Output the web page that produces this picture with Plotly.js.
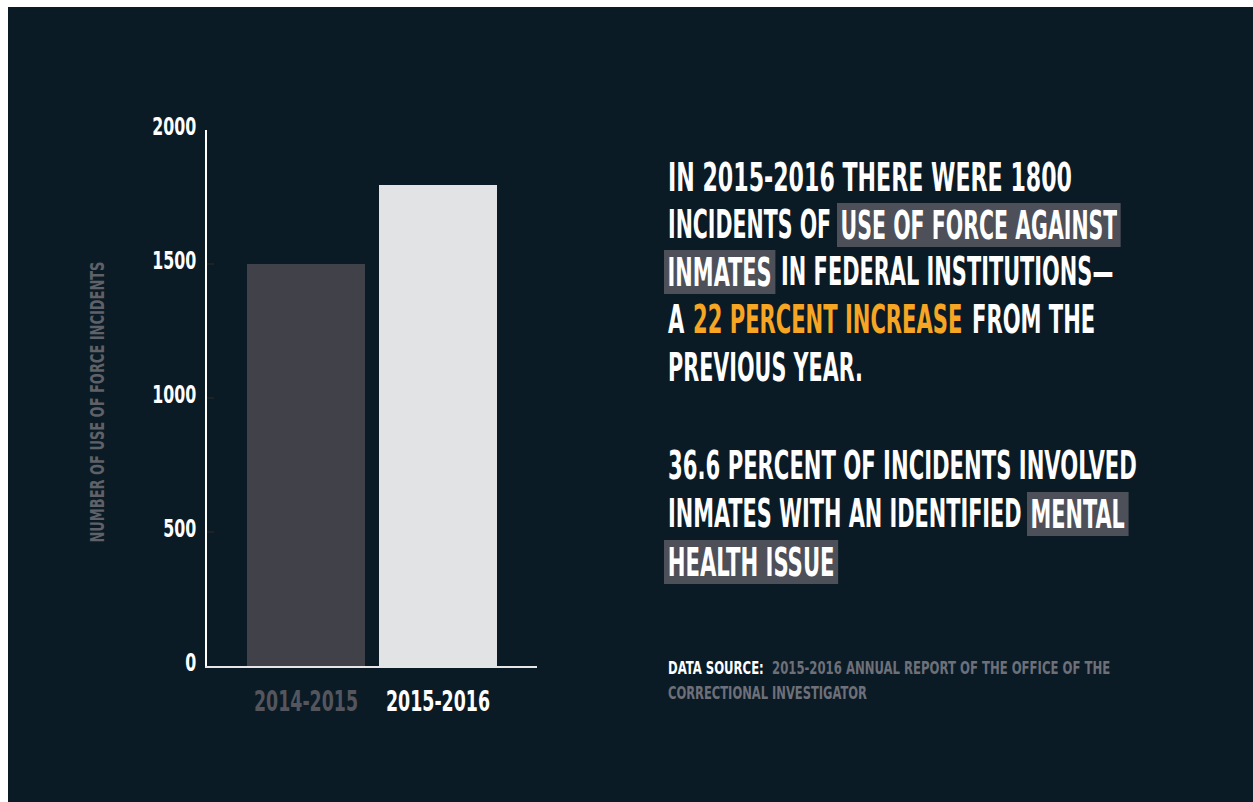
<!DOCTYPE html>
<html><head><meta charset="utf-8">
<script src="https://cdn.plot.ly/plotly-3.0.1.min.js"></script>
<style>
html,body{margin:0;padding:0;background:#ffffff;width:1253px;height:802px;overflow:hidden;}
#chart{position:absolute;left:8px;top:7px;width:1245px;height:795px;}
</style></head><body><div id="chart"></div>
<script>
// ---------------- DATA ----------------
const categories = ['2014-2015', '2015-2016'];
const incidents = [1500, 1795];
const yTickValues = [0, 500, 1000, 1500, 2000];
const yAxisTitle = 'NUMBER OF USE OF FORCE INCIDENTS';

const statementLines = [
  [['IN 2015-2016 THERE WERE 1800', 'plain']],
  [['INCIDENTS OF', 'plain'], ['USE OF FORCE AGAINST', 'hl']],
  [['INMATES', 'hl'], ['IN FEDERAL INSTITUTIONS—', 'plain']],
  [['A', 'plain'], ['22 PERCENT INCREASE', 'orange'], ['FROM THE', 'plain']],
  [['PREVIOUS YEAR.', 'plain']]
];
const mentalHealthLines = [
  [['36.6 PERCENT OF INCIDENTS INVOLVED', 'plain']],
  [['INMATES WITH AN IDENTIFIED', 'plain'], ['MENTAL', 'hl']],
  [['HEALTH ISSUE', 'hl']]
];
const sourceLines = [
  [['DATA SOURCE:', 'label'], ['2015-2016 ANNUAL REPORT OF THE OFFICE OF THE', 'src']],
  [['CORRECTIONAL INVESTIGATOR', 'src']]
];

// ---------------- STYLE / LAYOUT ----------------
const FONT = '"DejaVu Sans Condensed", "Liberation Sans Narrow", sans-serif';
const BG = '#0b1b25';
const COLORS = {plain: '#ffffff', hl: '#ffffff', orange: '#f6a623', label: '#ffffff', src: '#6e7079'};
const HL_BG = '#4d5058';
const BAR_COLORS = ['#414249', '#e2e3e5'];
const CAT_COLORS = ['#55565d', '#ffffff'];

// figure geometry (page pixels)
const G = {divL: 8, divT: 7, plotL: 207, plotR: 537, plotT: 130, plotB: 666.5};
const px2x = p => (p - G.plotL) / (G.plotR - G.plotL);
const px2y = p => (G.plotB - p) / (G.plotB - G.plotT);

const ctx = document.createElement('canvas').getContext('2d');
function textW(t, size) { ctx.font = `bold ${size}px ${FONT}`; return ctx.measureText(t).width; }

const anns = [];
const meta = [];

function placeLine(segs, S, cfg) {
  let x = cfg.startX, end = x;
  const items = segs.map(([text, kind]) => {
    const w = textW(text, cfg.size);
    const hl = kind === 'hl';
    const p = hl ? cfg.pad : 0;
    const L = x - S * p;
    end = x + S * w;
    x = L + S * (w + 2 * p) + (hl ? cfg.boxGap : cfg.textGap);
    return {text, kind, hl, p, L};
  });
  return {items, end};
}

function buildBlock(lines, cfg) {
  lines.forEach((segs, i) => {
    const e0 = placeLine(segs, 0, cfg).end, e1 = placeLine(segs, 1, cfg).end;
    const S = (cfg.ends[i] - e0) / (e1 - e0);
    placeLine(segs, S, cfg).items.forEach(it => {
      const a = {
        text: it.text, x: px2x(it.L), y: px2y(cfg.centers[i]), xref: 'paper', yref: 'paper',
        xanchor: 'left', yanchor: 'middle', showarrow: false,
        font: {family: FONT, size: cfg.size, color: COLORS[it.kind], weight: 700},
        bgcolor: it.hl ? HL_BG : 'rgba(0,0,0,0)', borderpad: it.p, borderwidth: 0
      };
      if (it.hl) a.height = cfg.boxH - 2 * it.p;
      anns.push(a);
      meta.push({sx: S, sy: 1, anchor: 'left'});
    });
  });
}

buildBlock(statementLines, {size: 39, startX: 668, ends: [1072, 1117, 1113, 1095, 863],
  centers: [177.5, 225, 272, 320, 368], pad: 6, boxH: 44, textGap: 9, boxGap: 5});
buildBlock(mentalHealthLines, {size: 39, startX: 668, ends: [1137, 1125, 835],
  centers: [466, 514, 562], pad: 6, boxH: 44, textGap: 9, boxGap: 5});
buildBlock(sourceLines, {size: 18, startX: 668, ends: [1110, 867],
  centers: [668.5, 693], pad: 0, boxH: 0, textGap: 8, boxGap: 0});

// rotated y-axis title
const titleSize = 19;
anns.push({
  text: yAxisTitle, x: px2x(97), y: px2y(402.5), xref: 'paper', yref: 'paper',
  xanchor: 'center', yanchor: 'middle', showarrow: false, textangle: -90,
  font: {family: FONT, size: titleSize, color: '#5f6169', weight: 700}, borderpad: 0, borderwidth: 0
});
meta.push({sx: 1, sy: 281 / textW(yAxisTitle, titleSize), anchor: 'center'});

const Y_TICK_SIZE = 24, X_TICK_SIZE = 28;
const yTickScale = 44 / textW('2000', Y_TICK_SIZE);
const xTickScale = 104 / textW('2014-2015', X_TICK_SIZE);

const trace = {
  type: 'bar', x: categories, y: incidents,
  marker: {color: BAR_COLORS, line: {width: 0}},
  hoverinfo: 'none', showlegend: false
};

const layout = {
  width: 1245, height: 795,
  margin: {l: G.plotL - G.divL, r: 1253 - G.plotR, t: G.plotT - G.divT, b: 802 - G.plotB, pad: 0},
  paper_bgcolor: BG, plot_bgcolor: BG,
  bargap: 0.106,
  font: {family: FONT, color: '#ffffff'},
  xaxis: {
    type: 'category', range: [-0.75, 1.75], fixedrange: true,
    showline: true, linecolor: '#e6e6e6', linewidth: 2,
    showgrid: false, zeroline: false, ticks: '', tickangle: 0,
    tickvals: categories,
    ticktext: categories.map((c, i) => `<span style="color:${CAT_COLORS[i]}">${c}</span>`),
    tickfont: {family: FONT, size: X_TICK_SIZE, weight: 700},
    ticklabelstandoff: 9
  },
  yaxis: {
    range: [0, 2000], fixedrange: true,
    showline: true, linecolor: '#ffffff', linewidth: 2,
    showgrid: false, zeroline: false,
    tickvals: yTickValues, ticktext: yTickValues.map(String),
    ticks: 'inside', ticklen: 7, tickwidth: 2, tickcolor: '#1e2226',
    tickfont: {family: FONT, size: Y_TICK_SIZE, color: '#ffffff', weight: 700},
    ticklabelstandoff: 4
  },
  annotations: anns
};

function squeeze(el, sx, sy, anchor, dy) {
  const bb = el.getBBox();
  const ax = anchor === 'left' ? bb.x : anchor === 'right' ? bb.x + bb.width : bb.x + bb.width / 2;
  const ay = bb.y + bb.height / 2;
  const prev = el.getAttribute('transform') || '';
  el.setAttribute('transform', `${prev} translate(0,${dy || 0}) translate(${ax},${ay}) scale(${sx},${sy}) translate(${-ax},${-ay})`);
}

Plotly.newPlot('chart', [trace], layout, {staticPlot: true, displayModeBar: false}).then(gd => {
  gd.querySelectorAll('g.annotation').forEach(g => {
    const m = meta[+g.getAttribute('data-index')];
    if (m) squeeze(g, m.sx, m.sy, m.anchor, 0);
  });
  gd.querySelectorAll('.ytick text').forEach(t => squeeze(t, yTickScale, 1, 'right', -3));
  gd.querySelectorAll('.xtick text').forEach(t => squeeze(t, xTickScale, 1, 'center', 0));
});
</script></body></html>
